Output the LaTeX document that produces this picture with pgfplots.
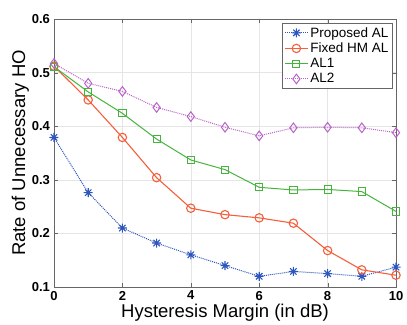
\documentclass[border=0pt]{standalone}
\usepackage{pgfplots}
\pgfplotsset{compat=1.18}
\usepackage{fontspec}
\setmainfont{Liberation Sans}
\definecolor{cblue}{RGB}{45,85,190}
\definecolor{corange}{RGB}{245,95,60}
\definecolor{cgreen}{RGB}{70,180,60}
\definecolor{cpurple}{RGB}{185,100,200}
\pgfdeclareplotmark{mlstar}{%
  \pgfpathmoveto{\pgfqpoint{-\pgfplotmarksize}{0pt}}\pgfpathlineto{\pgfqpoint{\pgfplotmarksize}{0pt}}%
  \pgfpathmoveto{\pgfqpoint{0pt}{-\pgfplotmarksize}}\pgfpathlineto{\pgfqpoint{0pt}{\pgfplotmarksize}}%
  \pgfpathmoveto{\pgfqpoint{-0.707\pgfplotmarksize}{-0.707\pgfplotmarksize}}\pgfpathlineto{\pgfqpoint{0.707\pgfplotmarksize}{0.707\pgfplotmarksize}}%
  \pgfpathmoveto{\pgfqpoint{-0.707\pgfplotmarksize}{0.707\pgfplotmarksize}}\pgfpathlineto{\pgfqpoint{0.707\pgfplotmarksize}{-0.707\pgfplotmarksize}}%
  \pgfusepathqstroke}
\begin{document}
\begin{tikzpicture}
\begin{axis}[
  name=ax,
  scale only axis,
  width=342pt, height=268pt,
  xmin=0, xmax=10, ymin=0.1, ymax=0.6,
  xtick={0,2,4,6,8,10},
  ytick={0.1,0.2,0.3,0.4,0.5,0.6},
  yticklabel style={/pgf/number format/fixed,/pgf/number format/precision=1,/pgf/number format/fixed zerofill, xshift=-0.5pt},
  xticklabel style={yshift=-0.5pt},
  /pgf/number format/assume math mode=true,
  tick label style={font=\fontsize{13}{15}\selectfont\bfseries},
  label style={font=\fontsize{18.5}{22}\selectfont},
  xlabel={Hysteresis Margin (in dB)},
  ylabel={Rate of Unnecessary HO},
  xlabel style={yshift=3pt},
  ylabel style={yshift=-4pt},
  grid=major,
  major grid style={gray!20},
  axis line style={gray!80!black},
  tick style={gray!80!black},
  tick align=inside,
  legend style={at={(0.99,0.985)}, anchor=north east, draw=gray!80!black, font=\fontsize{13.5}{14}\selectfont, row sep=0.3pt, inner sep=2pt},
  legend cell align=left,
  legend image code/.code={\draw[mark repeat=2,mark phase=2] plot coordinates {(0cm,0cm)(0.4cm,0cm)(0.8cm,0cm)};},
]
\addplot[cblue, densely dotted, line width=1pt, mark=mlstar, mark size=4.5pt, mark options={solid, line width=1.1pt}] coordinates {
(0,0.379) (1,0.276) (2,0.210) (3,0.182) (4,0.160) (5,0.140) (6,0.120) (7,0.129) (8,0.125) (9,0.120) (10,0.137)};
\addlegendentry{Proposed AL}
\addplot[corange, solid, line width=1.1pt, mark=o, mark size=4.2pt, mark options={solid, line width=1.1pt}] coordinates {
(0,0.512) (1,0.449) (2,0.379) (3,0.304) (4,0.247) (5,0.235) (6,0.229) (7,0.219) (8,0.168) (9,0.132) (10,0.122)};
\addlegendentry{Fixed HM AL}
\addplot[cgreen, solid, line width=1pt, mark=square, mark size=3.6pt, mark options={solid, line width=1pt}] coordinates {
(0,0.511) (1,0.464) (2,0.424) (3,0.376) (4,0.337) (5,0.319) (6,0.286) (7,0.281) (8,0.282) (9,0.278) (10,0.241)};
\addlegendentry{AL1}
\addplot[cpurple, densely dotted, line width=1pt, mark=diamond, mark size=4.8pt, mark options={solid, line width=1pt}] coordinates {
(0,0.517) (1,0.480) (2,0.465) (3,0.435) (4,0.418) (5,0.398) (6,0.382) (7,0.397) (8,0.398) (9,0.397) (10,0.388)};
\addlegendentry{AL2}
\end{axis}
\pgfresetboundingbox
\path ([xshift=-54pt,yshift=-37pt]ax.south west) rectangle ([xshift=11pt,yshift=19pt]ax.north east);
\end{tikzpicture}
\end{document}
